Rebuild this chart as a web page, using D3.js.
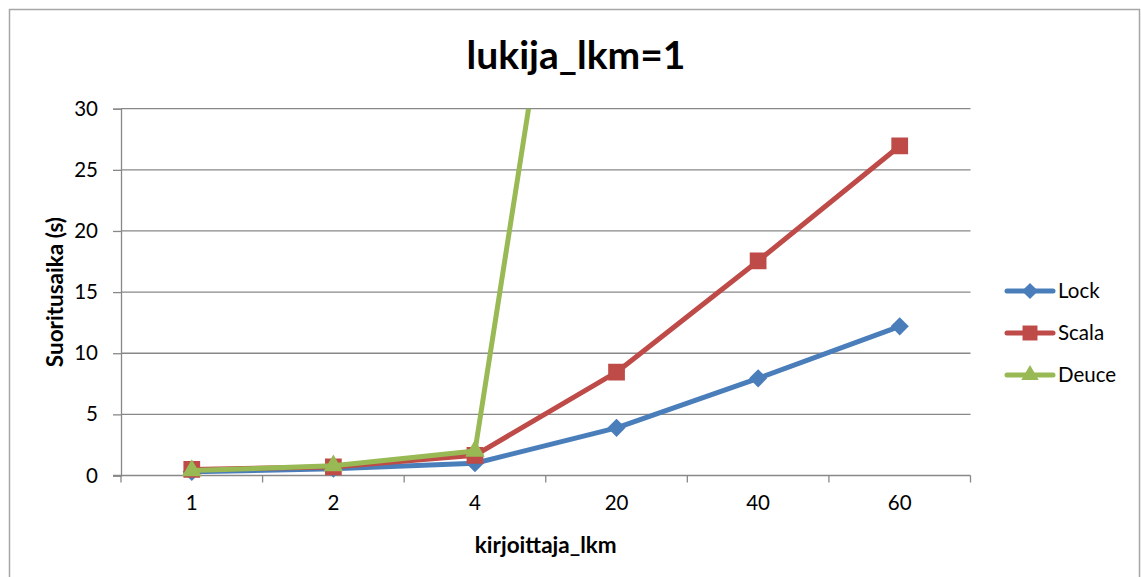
<!DOCTYPE html>
<html>
<head>
<meta charset="utf-8">
<script src="https://cdn.jsdelivr.net/npm/d3@7"></script>
<style>
  html, body { margin: 0; padding: 0; background: #fff; }
  svg { display: block; font-family: Lato, "Open Sans", sans-serif; }
</style>
</head>
<body>
<svg id="chart" width="1141" height="577"></svg>
<script>
// Writer counts on the category axis
const categories = ["1", "2", "4", "20", "40", "60"];
// Run times in seconds per implementation
const lockValues  = [0.3, 0.55, 1.0, 3.9, 7.95, 12.2];
const scalaValues = [0.5, 0.7, 1.65, 8.45, 17.55, 26.95];
const deuceValues = [0.4, 0.8, 2.0, 76, null, null];
const yTicks = [0, 5, 10, 15, 20, 25, 30];

const seriesNames = ["Lock", "Scala", "Deuce"];
const seriesColors = ["#4a7ebb", "#be4b48", "#98b954"];
const seriesShapes = ["diamond", "square", "triangle"];
const series = seriesNames.map((name, i) => ({
  name,
  color: seriesColors[i],
  shape: seriesShapes[i],
  values: [lockValues, scalaValues, deuceValues][i]
}));

// Marker path generator: diamond is a square turned 45 degrees
function markerPath(shape, scale) {
  if (shape === "diamond") return d3.symbol().type(d3.symbolSquare).size(165 * scale)();
  if (shape === "square") return d3.symbol().type(d3.symbolSquare).size(280 * scale)();
  return d3.symbol().type(d3.symbolTriangle).size(165 * scale)();
}
const markerRotate = shape => shape === "diamond" ? " rotate(45)" : "";

const svg = d3.select("#chart");
const plot = { left: 121, right: 970.5, top: 108.7, bottom: 475.5 };
const gridColor = "#888888";

// Chart frame
svg.append("rect")
  .attr("x", 9.5).attr("y", 9.5)
  .attr("width", 1130).attr("height", 600)
  .attr("fill", "none").attr("stroke", "#a6a6a6").attr("stroke-width", 1.5);

const x = d3.scaleBand().domain(categories).range([plot.left, plot.right]).padding(0);
const y = d3.scaleLinear().domain([0, 30]).range([plot.bottom, plot.top]);

// Horizontal gridlines
svg.append("g").selectAll("line").data(yTicks.filter(t => t > 0)).join("line")
  .attr("x1", plot.left).attr("x2", plot.right)
  .attr("y1", d => y(d)).attr("y2", d => y(d))
  .attr("stroke", gridColor).attr("stroke-width", 1.3);

// Y axis
const yAxis = svg.append("g")
  .attr("transform", `translate(${plot.left},0)`)
  .call(d3.axisLeft(y).tickValues(yTicks).tickSize(8).tickPadding(15));
yAxis.select(".domain").attr("stroke", gridColor).attr("stroke-width", 1.3);
yAxis.selectAll(".tick line").attr("stroke", gridColor).attr("stroke-width", 1.3);
yAxis.selectAll(".tick text").attr("font-size", 20.5).attr("fill", "#000").attr("font-family", "Lato");

// X axis: labels centred in each category, ticks at category boundaries
const xAxis = svg.append("g")
  .attr("transform", `translate(0,${plot.bottom})`)
  .call(d3.axisBottom(x).tickSize(0).tickPadding(20));
xAxis.select(".domain").remove();
xAxis.selectAll(".tick text").attr("font-size", 20.5).attr("fill", "#000").attr("font-family", "Lato");
svg.append("line")
  .attr("x1", plot.left - 8).attr("x2", plot.right)
  .attr("y1", plot.bottom).attr("y2", plot.bottom)
  .attr("stroke", gridColor).attr("stroke-width", 1.3);
const boundaries = categories.map(c => x(c)).concat([x.range()[1]]);
svg.append("g").selectAll("line").data(boundaries).join("line")
  .attr("x1", d => d).attr("x2", d => d)
  .attr("y1", plot.bottom).attr("y2", plot.bottom + 7)
  .attr("stroke", gridColor).attr("stroke-width", 1.3);

// Series lines and markers, clipped to the plot area
svg.append("clipPath").attr("id", "plot-clip")
  .append("rect")
  .attr("x", plot.left).attr("y", plot.top)
  .attr("width", plot.right - plot.left).attr("height", plot.bottom - plot.top + 20);

const cx = c => x(c) + x.bandwidth() / 2;
const line = d3.line()
  .defined(d => d.v != null)
  .x(d => cx(d.c))
  .y(d => y(d.v));

const seriesG = svg.append("g").attr("clip-path", "url(#plot-clip)");
series.forEach(s => {
  const pts = categories.map((c, i) => ({ c, v: s.values[i] }));
  seriesG.append("path")
    .datum(pts)
    .attr("d", line)
    .attr("fill", "none")
    .attr("stroke", s.color)
    .attr("stroke-width", 5)
    .attr("stroke-linejoin", "round")
    .attr("stroke-linecap", "round");
  seriesG.append("g").selectAll("path")
    .data(pts.filter(d => d.v != null && d.v <= 30))
    .join("path")
    .attr("transform", d => `translate(${cx(d.c)},${y(d.v)})${markerRotate(s.shape)}`)
    .attr("d", markerPath(s.shape, 1))
    .attr("fill", s.color);
});

// Title and axis titles
svg.append("text")
  .attr("x", 576).attr("y", 69)
  .attr("text-anchor", "middle")
  .attr("font-size", 39).attr("font-weight", "bold")
  .text("lukija_lkm=1");

svg.append("text")
  .attr("transform", `translate(63,${(plot.top + plot.bottom) / 2}) rotate(-90)`)
  .attr("text-anchor", "middle")
  .attr("font-size", 22.5).attr("font-weight", "bold")
  .text("Suoritusaika (s)");

svg.append("text")
  .attr("x", (plot.left + plot.right) / 2).attr("y", 553)
  .attr("text-anchor", "middle")
  .attr("font-size", 22.5).attr("font-weight", "bold")
  .text("kirjoittaja_lkm");

// Legend
const legend = svg.append("g");
series.forEach((s, i) => {
  const ly = 291 + i * 42;
  legend.append("line")
    .attr("x1", 1007).attr("x2", 1053)
    .attr("y1", ly).attr("y2", ly)
    .attr("stroke", s.color).attr("stroke-width", 5).attr("stroke-linecap", "round");
  legend.append("path")
    .attr("transform", `translate(1030,${ly})${markerRotate(s.shape)}`)
    .attr("d", markerPath(s.shape, 0.8))
    .attr("fill", s.color);
  legend.append("text")
    .attr("x", 1058).attr("y", ly + 7)
    .attr("font-size", 20.5)
    .text(s.name);
});
</script>
</body>
</html>
